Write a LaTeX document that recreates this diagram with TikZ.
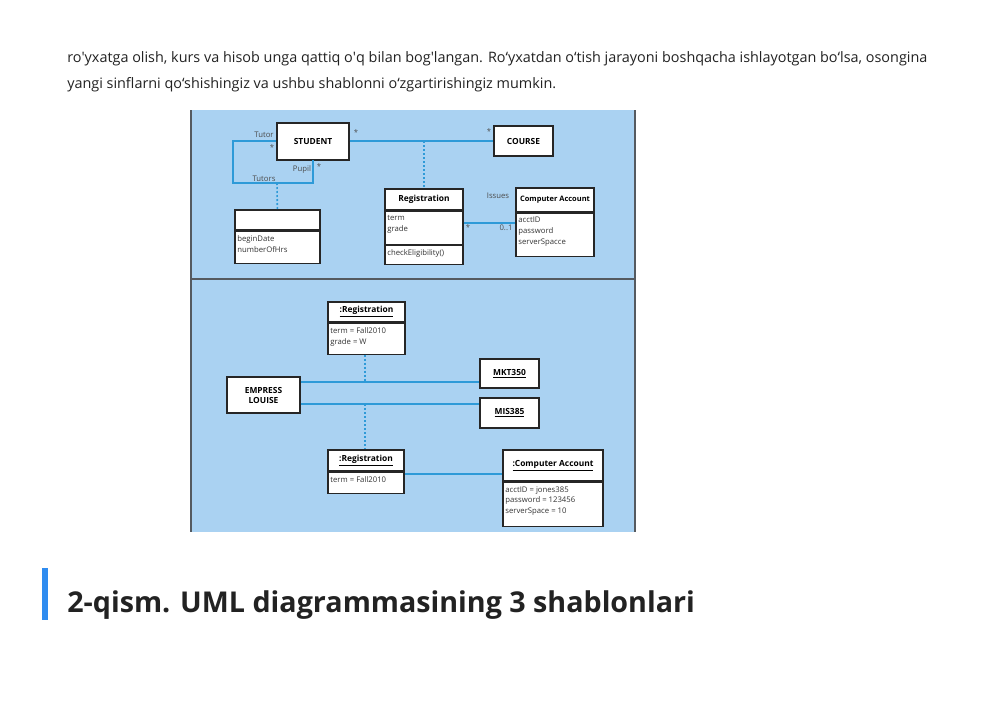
\documentclass[tikz,border=0pt]{standalone}
\usepackage{fontspec}
\setmainfont{Open Sans}
\usetikzlibrary{positioning}
\def\px{0.75pt}
\definecolor{panel}{HTML}{AAD2F2}
\definecolor{assoc}{HTML}{2E9AD8}
\definecolor{frame}{HTML}{555A60}
\definecolor{bar}{HTML}{2F8CF0}
\definecolor{body}{HTML}{222222}

\begin{document}
\begin{tikzpicture}
    [x=\px,y=-\px,
      box/.style={draw=black!85,fill=white,line width=.8pt,font=\fontsize{6.3}{7.5}\selectfont\bfseries,inner sep=1pt},
      part/.style={box,anchor=north west},
      attr/.style={font=\fontsize{5.8}{8}\selectfont,text=black!80,align=left,anchor=north west,inner sep=2pt,yshift=-1.5pt},
      link/.style={assoc,line width=1.3pt},
      dlink/.style={assoc,line width=1.2pt,dash pattern=on 1.5pt off 1.5pt},
      mult/.style={font=\fontsize{5.8}{6}\selectfont,text=black!70}]
    \useasboundingbox (0,0) rectangle (1000,707);
    \fill[white] (0,0) rectangle (1000,707);

    % text around the figure
    \node[anchor=base west,text=body,font=\fontsize{10.8}{12}\selectfont,inner sep=0] (l1) at (67,62)
      {ro\textquotesingle yxatga olish, kurs va hisob unga qattiq o\textquotesingle q bilan bog\textquotesingle langan. Ro‘yxatdan o‘tish jarayoni boshqacha ishlayotgan bo‘lsa, osongina};
    \node[anchor=base west,text=body,font=\fontsize{10.8}{12}\selectfont,inner sep=0] (l2) at (67,88)
      {yangi sinflarni qo‘shishingiz va ushbu shablonni o‘zgartirishingiz mumkin.};
    \fill[bar] (42,568) rectangle (48,620);
    \node[anchor=base west,text=body,font=\fontsize{21.5}{24}\selectfont\bfseries,inner sep=0] (head) at (67,612)
      {2-qism. UML diagrammasining 3 shablonlari};

    % panel
    \fill[panel] (190,110) rectangle (636,532);
    \draw[frame,line width=1.2pt] (191,110) -- (191,532) (635,110) -- (635,532) (191,279) -- (635,279);

    % class diagram
    \node[box,minimum width=72*\px,minimum height=37*\px] (student) at (313,141.5) {STUDENT};
    \node[box,minimum width=59*\px,minimum height=30*\px] (course) at (523.5,141) {COURSE};
    \draw[link] (student.east |- 0,141) -- (course.west |- 0,141);
    \coordinate (assocC) at (424,141);
    \draw[link] (student.west |- 0,141) -- (233,141) -- (233,183) -- (313,183) -- (313,160);
    \coordinate (loopC) at (277,183);

    \node[box,minimum width=85*\px,minimum height=20*\px] (link) at (277.5,220) {};
    \node[part,minimum width=85*\px,minimum height=32*\px] (linkA) at (link.south west) {};
    \node[attr] (linkT) at (linkA.north west) {beginDate\\numberOfHrs};

    \node[box,minimum width=78*\px,minimum height=21*\px] (reg) at (424,199.5) {Registration};
    \node[part,minimum width=78*\px,minimum height=33*\px] (regA) at (reg.south west) {};
    \node[attr] (regAT) at (regA.north west) {term\\grade};
    \node[part,minimum width=78*\px,minimum height=19*\px] (regO) at (regA.south west) {};
    \node[attr] (regOT) at (regO.north west) {checkEligibility()};

    \node[box,font=\fontsize{5.6}{7}\selectfont\bfseries,minimum width=78*\px,minimum height=24*\px] (acct) at (555,200) {Computer Account};
    \node[part,minimum width=78*\px,minimum height=43*\px] (acctA) at (acct.south west) {};
    \node[attr] (acctT) at (acctA.north west) {acctID\\password\\serverSpacce};

    \draw[dlink] (assocC) -- (reg);
    \draw[dlink] (loopC) -- (link);
    \draw[link] (regA.east |- 0,223) -- (acctA.west |- 0,223);

    \node[mult] (m1) at (264,135) {Tutor};
    \node[mult] (m2) at (272,148) {*};
    \node[mult] (m3) at (302,169) {Pupil};
    \node[mult] (m4) at (319,167) {*};
    \node[mult] (m5) at (264,179) {Tutors};
    \node[mult] (m6) at (356,133) {*};
    \node[mult] (m7) at (489,132) {*};
    \node[mult] (m8) at (498,196) {Issues};
    \node[mult] (m9) at (468,228) {*};
    \node[mult] (m10) at (506,228) {0..1};

    % object diagram
    \node[box,minimum width=77*\px,minimum height=20*\px] (o1) at (366.5,312) {\underline{:Registration}};
    \node[part,minimum width=77*\px,minimum height=31*\px] (o1A) at (o1.south west) {};
    \node[attr] (o1T) at (o1A.north west) {term = Fall2010\\grade = W};
    \node[box,align=center,minimum width=73*\px,minimum height=36*\px] (emp) at (263.5,395) {EMPRESS\\LOUISE};
    \node[box,minimum width=59*\px,minimum height=29*\px] (mkt) at (509.5,373.5) {\underline{MKT350}};
    \node[box,minimum width=59*\px,minimum height=30*\px] (mis) at (509.5,413) {\underline{MIS385}};
    \draw[link] (emp.east |- 0,382) -- (mkt.west |- 0,382);
    \draw[link] (emp.east |- 0,404) -- (mis.west |- 0,404);
    \coordinate (l1C) at (365,382);
    \coordinate (l2C) at (365,404);
    \draw[dlink] (o1A.south -| l1C) -- (l1C);

    \node[box,minimum width=76*\px,minimum height=21*\px] (o2) at (366,460.5) {\underline{:Registration}};
    \node[part,minimum width=76*\px,minimum height=21*\px] (o2A) at (o2.south west) {};
    \node[attr] (o2T) at (o2A.north west) {term = Fall2010};
    \draw[dlink] (l2C) -- (o2.north -| l2C);

    \node[box,minimum width=100*\px,minimum height=31*\px] (o3) at (553,465.5) {\underline{:Computer Account}};
    \node[part,minimum width=100*\px,minimum height=44*\px] (o3A) at (o3.south west) {};
    \node[attr] (o3T) at (o3A.north west) {acctID = jones385\\password = 123456\\serverSpace = 10};
    \draw[link] (o2A.east |- 0,474) -- (o3A.west |- 0,474);
\end{tikzpicture}
\end{document}
